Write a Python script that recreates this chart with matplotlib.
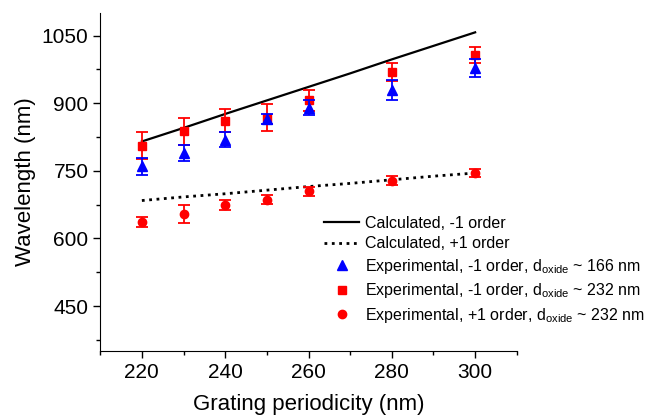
import matplotlib
matplotlib.use("Agg")
import matplotlib.pyplot as plt
from matplotlib.ticker import MultipleLocator

plt.rcParams['font.family'] = ['Liberation Sans', 'DejaVu Sans']
plt.rcParams['mathtext.fontset'] = 'custom'
plt.rcParams['mathtext.rm'] = 'Liberation Sans'

# grating periods (nm)
period_calc = [220, 230, 240, 250, 260, 270, 280, 290, 300]
period_exp = [220, 230, 240, 250, 260, 280, 300]

# calculated resonance wavelengths
calc_minus1 = [815, 845, 876, 906, 936, 966, 997, 1027, 1057]
calc_plus1 = [684, 692, 699, 707, 715, 722, 730, 738, 745]

# measured, -1 order, d_oxide ~ 166 nm
exp_m1_166 = [760, 789, 819, 864, 890, 929, 977]
err_m1_166 = [19, 18, 16, 11, 16, 22, 20]

# measured, -1 order, d_oxide ~ 232 nm
exp_m1_232 = [806, 838, 861, 868, 906, 969, 1007]
err_m1_232 = [29, 30, 25, 30, 24, 20, 18]

# measured, +1 order, d_oxide ~ 232 nm
exp_p1_232 = [637, 654, 674, 686, 705, 728, 745]
err_p1_232 = [11, 20, 12, 10, 10, 10, 9]

fig = plt.figure(figsize=(6.55, 4.18), dpi=100)
ax = fig.add_axes([0.153, 0.160, 0.636, 0.809])

ax.plot(period_calc, calc_minus1, 'k-', lw=1.6, label='Calculated, -1 order')
ax.plot(period_calc, calc_plus1, 'k:', lw=2.0, label='Calculated, +1 order')

ekw = dict(fmt='none', capsize=4.5, elinewidth=1.3, capthick=1.3)
ax.errorbar(period_exp, exp_m1_232, yerr=err_m1_232, ecolor='red', zorder=3, **ekw)
ax.errorbar(period_exp, exp_p1_232, yerr=err_p1_232, ecolor='red', zorder=3, **ekw)
ax.errorbar(period_exp, exp_m1_166, yerr=err_m1_166, ecolor='blue', zorder=4, **ekw)

ax.plot(period_exp, exp_m1_166, '^', color='blue', ms=6.5, ls='none', zorder=5,
        label=r'Experimental, -1 order, d$_{\mathrm{oxide}}$ ~ 166 nm')
ax.plot(period_exp, exp_m1_232, 's', color='red', ms=5.5, ls='none', zorder=3.5,
        label=r'Experimental, -1 order, d$_{\mathrm{oxide}}$ ~ 232 nm')
ax.plot(period_exp, exp_p1_232, 'o', color='red', ms=6, ls='none', zorder=3.5,
        label=r'Experimental, +1 order, d$_{\mathrm{oxide}}$ ~ 232 nm')

ax.set_xlim(210, 310)
ax.set_ylim(350, 1100)
ax.xaxis.set_major_locator(MultipleLocator(20))
ax.xaxis.set_minor_locator(MultipleLocator(10))
ax.yaxis.set_major_locator(MultipleLocator(150))
ax.yaxis.set_minor_locator(MultipleLocator(75))
ax.tick_params(which='both', direction='out', labelsize=15, width=1.0)
ax.tick_params(which='major', length=5)
ax.tick_params(which='minor', length=3)
ax.spines['top'].set_visible(False)
ax.spines['right'].set_visible(False)

ax.set_xlabel('Grating periodicity (nm)', fontsize=16, labelpad=9)
ax.set_ylabel('Wavelength (nm)', fontsize=16)

ax.legend(loc='upper left', bbox_to_anchor=(0.495, 0.484), bbox_transform=fig.transFigure,
          frameon=False, fontsize=11.5, handlelength=2.2, handletextpad=0.35,
          labelspacing=0.35, borderpad=0, borderaxespad=0)

fig.savefig('out.png', dpi=100)
